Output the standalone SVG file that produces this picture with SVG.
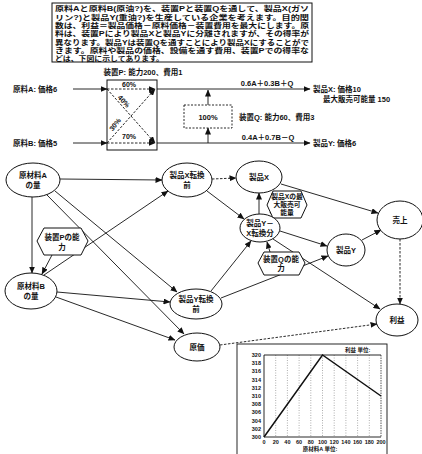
<svg xmlns="http://www.w3.org/2000/svg" width="422" height="454" viewBox="0 0 422 454">
<style>
text{font-family:"Liberation Sans","Noto Sans CJK JP",sans-serif;fill:#111;font-weight:700}
.t{font-size:7.3px}
.s{font-size:7.5px}
.n{font-size:7.5px;text-anchor:middle}
.h{font-size:6.8px;text-anchor:middle}
.c{font-size:5.5px}
.p{font-size:7px}
.nd{fill:#fff;stroke:#111;stroke-width:1}
.e{fill:none;stroke:#111;stroke-width:0.9}
.d{fill:none;stroke:#111;stroke-width:0.9;stroke-dasharray:2.5,1.5}
.g{fill:none;stroke:#777;stroke-width:0.6;stroke-dasharray:1,1.5}
</style>
<defs>
<marker id="ar" markerWidth="7" markerHeight="6" refX="6.5" refY="3" orient="auto" markerUnits="userSpaceOnUse">
<path d="M0,0 L7,3 L0,6 z" fill="#111"/>
</marker>
</defs>
<rect width="422" height="454" fill="#fff"/>

<g id="description">
<rect x="52" y="3" width="260" height="59" fill="#fff" stroke="#111" stroke-width="1"/>
<text class="t" x="55" y="11.3" textLength="254" lengthAdjust="spacingAndGlyphs">原料Aと原料B(原油?)を、装置Pと装置Qを通して、製品X(ガソ</text>
<text class="t" x="55" y="19.6" textLength="254" lengthAdjust="spacingAndGlyphs">リン?)と製品Y(重油?)を生産している企業を考えます。目的関</text>
<text class="t" x="55" y="27.9" textLength="254" lengthAdjust="spacingAndGlyphs">数は、利益＝製品価格－原料価格－装置費用を最大にします。原</text>
<text class="t" x="55" y="36.2" textLength="254" lengthAdjust="spacingAndGlyphs">料は、装置Pにより製品Xと製品Yに分離されますが、その得率が</text>
<text class="t" x="55" y="44.5" textLength="254" lengthAdjust="spacingAndGlyphs">異なります。製品Yは装置Qを通すことにより製品Xにすることがで</text>
<text class="t" x="55" y="52.8" textLength="254" lengthAdjust="spacingAndGlyphs">きます。原料や製品の価格、設備を通す費用、装置Pでの得率な</text>
<text class="t" x="55" y="61.1" textLength="109" lengthAdjust="spacingAndGlyphs">どは、下図に示してあります。</text>
</g>

<g id="process">
<text class="s" x="143" y="75" text-anchor="middle">装置P: 能力200、費用1</text>
<rect x="107" y="80" width="50" height="70" fill="none" stroke="#111" stroke-width="1"/>
<text class="s" x="13" y="92">原料A: 価格6</text>
<text class="s" x="13" y="146">原料B: 価格5</text>
<line class="e" x1="73" y1="89" x2="107" y2="89" marker-end="url(#ar)"/>
<line class="e" x1="73" y1="143" x2="107" y2="143" marker-end="url(#ar)"/>
<line class="d" x1="107" y1="89" x2="155" y2="89" marker-end="url(#ar)"/>
<line class="d" x1="107" y1="143" x2="155" y2="143" marker-end="url(#ar)"/>
<line class="d" x1="107" y1="89" x2="155" y2="143" marker-end="url(#ar)"/>
<line class="d" x1="107" y1="143" x2="155" y2="89" marker-end="url(#ar)"/>
<text class="p" x="129" y="87" text-anchor="middle">60%</text>
<text class="p" x="129" y="139" text-anchor="middle">70%</text>
<text class="p" transform="translate(122,103) rotate(48)" text-anchor="middle">40%</text>
<text class="p" transform="translate(117,126) rotate(-52)" text-anchor="middle">30%</text>
<line class="e" x1="157" y1="89" x2="310" y2="89" marker-end="url(#ar)"/>
<line class="e" x1="157" y1="143" x2="310" y2="143" marker-end="url(#ar)"/>
<text class="s" x="267" y="86" text-anchor="middle">0.6A＋0.3B＋Q</text>
<text class="s" x="268" y="140" text-anchor="middle">0.4A＋0.7B－Q</text>
<line class="e" x1="208" y1="143" x2="208" y2="128" marker-end="url(#ar)"/>
<line class="e" x1="208" y1="105" x2="208" y2="90" marker-end="url(#ar)"/>
<rect x="184" y="105" width="48" height="23" fill="none" stroke="#111" stroke-width="0.9" stroke-dasharray="2,1.5"/>
<text class="s" x="208" y="120" text-anchor="middle">100%</text>
<text class="s" x="239" y="120">装置Q: 能力60、費用3</text>
<text class="s" x="313" y="92">製品X: 価格10</text>
<text class="s" x="323" y="102">最大販売可能量  150</text>
<text class="s" x="313" y="146">製品Y: 価格6</text>
</g>

<g id="connectors">
<line class="e" x1="60" y1="179" x2="162" y2="180" marker-end="url(#ar)"/>
<line class="e" x1="32" y1="197" x2="32" y2="273" marker-end="url(#ar)"/>
<line class="e" x1="52" y1="255" x2="42" y2="274" marker-end="url(#ar)"/>
<line class="e" x1="55" y1="191" x2="177" y2="292" marker-end="url(#ar)"/>
<line class="e" x1="47" y1="195" x2="184" y2="334" marker-end="url(#ar)"/>
<line class="e" x1="44" y1="275" x2="168" y2="191" marker-end="url(#ar)"/>
<line class="e" x1="57" y1="292" x2="170" y2="302" marker-end="url(#ar)"/>
<line class="e" x1="56" y1="297" x2="175" y2="340" marker-end="url(#ar)"/>
<line class="d" x1="212" y1="179" x2="236" y2="178" marker-end="url(#ar)"/>
<line class="e" x1="207" y1="191" x2="244" y2="219" marker-end="url(#ar)"/>
<line class="e" x1="259" y1="214" x2="259" y2="193" marker-end="url(#ar)"/>
<line class="e" x1="271" y1="209" x2="275" y2="217" marker-end="url(#ar)"/>
<line class="e" x1="281" y1="184" x2="378" y2="213" marker-end="url(#ar)"/>
<line class="e" x1="280" y1="231" x2="327" y2="246" marker-end="url(#ar)"/>
<line class="e" x1="362" y1="240" x2="381" y2="230" marker-end="url(#ar)"/>
<line class="d" x1="400" y1="239" x2="400" y2="304" marker-end="url(#ar)"/>
<line class="e" x1="273" y1="239" x2="380" y2="309" marker-end="url(#ar)"/>
<line class="e" x1="270" y1="252" x2="267" y2="242" marker-end="url(#ar)"/>
<line class="e" x1="211" y1="291" x2="251" y2="241" marker-end="url(#ar)"/>
<line class="e" x1="221" y1="298" x2="328" y2="256" marker-end="url(#ar)"/>
<line class="d" x1="220" y1="345" x2="377" y2="324" marker-end="url(#ar)"/>
</g>

<g id="n-A"><ellipse class="nd" cx="33" cy="180" rx="27" ry="17"/><text class="n" x="33" y="178">原材料A</text><text class="n" x="33" y="188">の量</text></g>
<g id="n-XB"><ellipse class="nd" cx="187" cy="180" rx="25" ry="17"/><text class="n" x="187" y="178">製品X転換</text><text class="n" x="187" y="188">前</text></g>
<g id="n-X"><ellipse class="nd" cx="259" cy="177" rx="23" ry="16"/><text class="n" x="259" y="180">製品X</text></g>
<g id="n-Xmax"><polygon class="nd" points="267,205 273,191 301,191 307,205 301,218 273,218"/><text class="h" x="287" y="199">製品Xの最</text><text class="h" x="287" y="207">大販売可</text><text class="h" x="287" y="215">能量</text></g>
<g id="n-YX"><ellipse class="nd" cx="260" cy="228" rx="20" ry="14"/><text class="n" x="260" y="226">製品Y－</text><text class="n" x="260" y="236">X転換分</text></g>
<g id="n-sales"><ellipse class="nd" cx="400" cy="220" rx="23" ry="19"/><text class="n" x="400" y="223">売上</text></g>
<g id="n-Y"><ellipse class="nd" cx="346" cy="250" rx="19" ry="16"/><text class="n" x="346" y="253">製品Y</text></g>
<g id="n-Qcap"><polygon class="nd" points="258,263 264,252 299,252 305,263 299,275 264,275"/><text class="n" x="281" y="262">装置Qの能</text><text class="n" x="281" y="271">力</text></g>
<g id="n-Pcap"><polygon class="nd" points="37,241 44,228 81,228 88,241 81,255 44,255"/><text class="n" x="62" y="240">装置Pの能</text><text class="n" x="62" y="250">力</text></g>
<g id="n-B"><ellipse class="nd" cx="31" cy="291" rx="26" ry="18"/><text class="n" x="31" y="289">原材料B</text><text class="n" x="31" y="299">の量</text></g>
<g id="n-YB"><ellipse class="nd" cx="196" cy="304" rx="26" ry="15"/><text class="n" x="196" y="302">製品Y転換</text><text class="n" x="196" y="312">前</text></g>
<g id="n-cost"><ellipse class="nd" cx="197" cy="347" rx="23" ry="14"/><text class="n" x="197" y="350">原価</text></g>
<g id="n-profit"><ellipse class="nd" cx="397" cy="320" rx="21" ry="16"/><text class="n" x="397" y="323">利益</text></g>

<g id="chart">
<rect x="237" y="344" width="150" height="114" fill="#fff" stroke="#111" stroke-width="0.9"/>
<g class="g">
<line x1="275.7" y1="355" x2="275.7" y2="437"/><line x1="287.4" y1="355" x2="287.4" y2="437"/>
<line x1="299.1" y1="355" x2="299.1" y2="437"/><line x1="310.8" y1="355" x2="310.8" y2="437"/>
<line x1="322.5" y1="355" x2="322.5" y2="437"/><line x1="334.2" y1="355" x2="334.2" y2="437"/>
<line x1="345.9" y1="355" x2="345.9" y2="437"/><line x1="357.6" y1="355" x2="357.6" y2="437"/>
<line x1="369.3" y1="355" x2="369.3" y2="437"/>
</g>
<line x1="264" y1="355" x2="381" y2="355" stroke="#111" stroke-width="0.9"/>
<line x1="264" y1="355" x2="264" y2="437" stroke="#111" stroke-width="0.9"/>
<line x1="264" y1="437" x2="381" y2="437" stroke="#111" stroke-width="0.9"/>
<line x1="381" y1="355" x2="381" y2="437" stroke="#111" stroke-width="0.7" stroke-dasharray="1.5,1"/>
<polyline points="264,437 322.5,355 381,396" fill="none" stroke="#111" stroke-width="1.5"/>
<text class="c" x="345" y="352">利益 単位:</text>
<g text-anchor="end">
<text class="c" x="261" y="357">320</text><text class="c" x="261" y="365.2">318</text><text class="c" x="261" y="373.4">316</text>
<text class="c" x="261" y="381.6">314</text><text class="c" x="261" y="389.8">312</text><text class="c" x="261" y="398">310</text>
<text class="c" x="261" y="406.2">308</text><text class="c" x="261" y="414.4">306</text><text class="c" x="261" y="422.6">304</text>
<text class="c" x="261" y="430.8">302</text><text class="c" x="261" y="439">300</text>
</g>
<g text-anchor="middle">
<text class="c" x="264" y="444">0</text><text class="c" x="275.7" y="444">20</text><text class="c" x="287.4" y="444">40</text>
<text class="c" x="299.1" y="444">60</text><text class="c" x="310.8" y="444">80</text><text class="c" x="322.5" y="444">100</text>
<text class="c" x="334.2" y="444">120</text><text class="c" x="345.9" y="444">140</text><text class="c" x="357.6" y="444">160</text>
<text class="c" x="369.3" y="444">180</text><text class="c" x="381" y="444">200</text>
<text class="c" x="320" y="451">原材料A 単位:</text>
</g>
</g>
</svg>
